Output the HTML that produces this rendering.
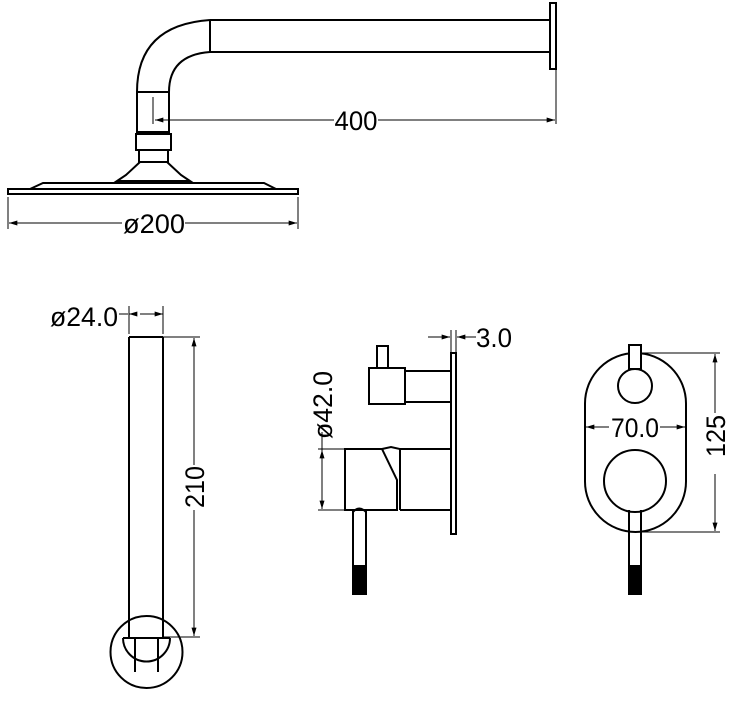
<!DOCTYPE html>
<html><head><style>html,body{margin:0;padding:0;background:#fff}svg{display:block}</style></head><body>
<svg width="737" height="702" viewBox="0 0 737 702" xmlns="http://www.w3.org/2000/svg">
<defs>
<marker id="a" viewBox="0 0 10 6" refX="10" refY="3" markerWidth="12" markerHeight="5" orient="auto-start-reverse" markerUnits="userSpaceOnUse"><path d="M0,0 L10,3 L0,6 z" fill="#000"/></marker>
</defs>
<g fill="none" stroke="#000" stroke-width="2">
<path d="M210,20 L550,20 M210,52 L550,52 M210,20 L210,52"/>
<path d="M210,20 Q137,25 137,92 M210,52 Q169,55 169,92"/>
<rect x="550" y="3" width="6" height="66"/>
<rect x="137" y="92" width="32" height="40"/>
<rect x="136" y="134" width="35" height="16"/>
<rect x="139" y="150" width="29" height="12"/>
<path d="M140,162 L126,175 L117,181 L190,181 L181,175 L167,162"/>
<path d="M30,189 L43,183 L264,183 L276,189"/>
<rect x="8" y="189" width="290" height="5"/>
</g>
<g stroke="#000" stroke-width="1" fill="none">
<path d="M153,97 L153,124 M556,70 L556,124 M8,197 L8,229 M298,197 L298,229"/>
<line x1="155" y1="120" x2="334" y2="120" marker-start="url(#a)"/>
<line x1="378" y1="120" x2="555" y2="120" marker-end="url(#a)"/>
<line x1="9" y1="223" x2="122" y2="223" marker-start="url(#a)"/>
<line x1="185" y1="223" x2="297" y2="223" marker-end="url(#a)"/>
</g>
<g font-family="Liberation Sans, sans-serif" font-size="27" fill="#000">
<text x="356" y="130" text-anchor="middle" textLength="43" lengthAdjust="spacingAndGlyphs">400</text>
<text x="154" y="233" text-anchor="middle" textLength="62" lengthAdjust="spacingAndGlyphs">ø200</text>
</g>
<g fill="none" stroke="#000" stroke-width="2">
<path d="M129,337 L163,337 M129,337 L129,638 M163,337 L163,638"/>
<circle cx="146.5" cy="652" r="36"/>
<path d="M123,638 L170,638 M123,638 A23,23 0 0 0 170,638"/>
<path d="M135,638 L135,672 M158,638 L158,672"/>
</g>
<g stroke="#000" stroke-width="1" fill="none">
<path d="M129,306 L129,334 M163,306 L163,334 M163,337 L200,337 M163,637 L200,637"/>
<line x1="119" y1="314" x2="128" y2="314"/>
<line x1="133" y1="314" x2="129" y2="314" marker-end="url(#a)"/>
<line x1="140" y1="314" x2="163" y2="314" marker-end="url(#a)"/>
<line x1="194" y1="338" x2="194" y2="465" marker-start="url(#a)"/>
<line x1="194" y1="510" x2="194" y2="636" marker-end="url(#a)"/>
</g>
<g font-family="Liberation Sans, sans-serif" font-size="27" fill="#000">
<text x="84" y="326" text-anchor="middle" textLength="68" lengthAdjust="spacingAndGlyphs">ø24.0</text>
<text transform="translate(204,487) rotate(-90)" text-anchor="middle" textLength="42" lengthAdjust="spacingAndGlyphs">210</text>
</g>
<g fill="none" stroke="#000" stroke-width="2">
<rect x="451" y="353" width="5" height="181"/>
<rect x="369" y="368" width="36" height="36"/>
<rect x="405" y="371" width="46" height="31"/>
<rect x="377" y="346" width="11" height="22"/>
<path d="M345,449 L382,449 L397,480 L397,510 L345,510 Z"/>
<path d="M382,449 L391,447 L400,449 L400,510 M400,449 L451,449 M400,510 L451,510"/>
<path d="M353,510 L353,566 M366,510 L366,566 M353,512 Q359,505 366,512"/>
</g>
<rect x="352" y="565" width="15" height="30" fill="#000"/>
<g stroke="#000" stroke-width="1" fill="none">
<path d="M451,330 L451,352 M456,330 L456,352 M318,449 L345,449 M318,510 L345,510"/>
<line x1="428" y1="337" x2="450" y2="337" marker-end="url(#a)"/>
<line x1="476" y1="337" x2="457" y2="337" marker-end="url(#a)"/>
<line x1="322" y1="432" x2="322" y2="450"/>
<line x1="322" y1="450" x2="322" y2="509" marker-start="url(#a)" marker-end="url(#a)"/>
</g>
<g font-family="Liberation Sans, sans-serif" font-size="27" fill="#000">
<text x="494" y="347" text-anchor="middle" textLength="36" lengthAdjust="spacingAndGlyphs">3.0</text>
<text transform="translate(332,405) rotate(-90)" text-anchor="middle" textLength="68" lengthAdjust="spacingAndGlyphs">ø42.0</text>
</g>
<g fill="none" stroke="#000" stroke-width="2">
<rect x="585" y="353" width="101" height="179" rx="50.5" ry="50.5"/>
<circle cx="635" cy="386" r="17"/>
<circle cx="635" cy="481" r="31"/>
<rect x="629" y="345" width="12" height="24" fill="#fff"/>
<path d="M629,510 L629,566 M641,510 L641,566"/>
</g>
<rect x="628" y="565" width="14" height="30" fill="#000"/>
<g stroke="#000" stroke-width="1" fill="none">
<path d="M641,353 L720,353 M641,532 L720,532"/>
<line x1="586" y1="427" x2="609" y2="427" marker-start="url(#a)"/>
<line x1="660" y1="427" x2="685" y2="427" marker-end="url(#a)"/>
<line x1="715" y1="354" x2="715" y2="413" marker-start="url(#a)"/>
<line x1="715" y1="474" x2="715" y2="531" marker-end="url(#a)"/>
</g>
<g font-family="Liberation Sans, sans-serif" font-size="27" fill="#000">
<text x="635" y="437" text-anchor="middle" textLength="48" lengthAdjust="spacingAndGlyphs">70.0</text>
<text transform="translate(725,436) rotate(-90)" text-anchor="middle" textLength="42" lengthAdjust="spacingAndGlyphs">125</text>
</g>
</svg>
</body></html>
